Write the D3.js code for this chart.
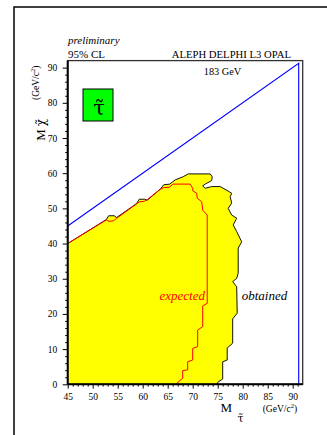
<!DOCTYPE html>
<html><head><meta charset="utf-8">
<script src="https://cdn.jsdelivr.net/npm/d3@7"></script>
<style>body{margin:0;background:#fff}svg{display:block}svg text{font-family:"Liberation Serif","DejaVu Serif",serif}svg text.dj{font-family:"DejaVu Serif",serif}</style>
</head><body>
<svg id="c" width="327" height="435"></svg>
<script>
// Data (GeV/c^2): M_stau on x, M_chi on y
const xTicks = [45,50,55,60,65,70,75,80,85,90];
const yTicks = [0,10,20,30,40,50,60,70,80,90];
const kinematicLimit = [[45,45],[91.2,91.2],[91.2,0]];
const obtained = [[45,0],[45,40],[52.7,46.8],[53.2,47.9],[54.3,47.9],[54.8,47.4],[58.8,51.4],[59.3,52.6],[60.4,52.6],[60.9,52.3],[63.6,55.6],[64.2,56.7],[65.4,56.9],[66.5,58.1],[68.1,59.0],[69.1,59.8],[73.5,59.8],[73.9,59.0],[73.8,57.9],[72.5,56.9],[72.0,56.4],[72.5,55.7],[73.8,56.2],[75.5,56.2],[77.1,54.9],[77.8,54.3],[77.5,53.3],[77.8,51.5],[77.1,50.0],[77.8,48.1],[78.8,47.2],[78.1,45.3],[78.8,43.4],[79.8,40.5],[79.1,38.7],[79.1,31.6],[78.8,30.1],[78.0,29.2],[78.8,27.7],[78.9,20.2],[78.0,18.6],[78.0,11.7],[76.9,10.3],[76.9,6.9],[76.0,6.4],[76.0,1.5],[75.1,0.7],[74.8,0]];
const expected = [[45,40],[52.7,46.7],[53.3,46.3],[54.2,46.5],[54.8,47.2],[58.8,51.3],[59.4,51.9],[60.3,52.0],[61.0,52.6],[63.5,55.4],[64.2,55.9],[65.3,56.0],[66.1,56.9],[69.5,56.9],[70,55.7],[70,55],[70.8,54.3],[70.9,52.9],[71.8,51.9],[72,49.5],[72.9,48.1],[72.9,23.0],[72,22.3],[72,16.4],[71,15.4],[71,10.7],[70,10.2],[70,6.9],[69,6.4],[69,4.1],[68,3.9],[68,1.7],[67.1,0.7],[66.8,0]];

const svg = d3.select("#c");
const x = d3.scaleLinear().domain([45,92]).range([67.7,302.7]);
const y = d3.scaleLinear().domain([0,92]).range([384.3,60.6]);
const line = d3.line().x(d=>x(d[0])).y(d=>y(d[1]));

// outer frame
svg.append("rect").attr("x",14).attr("y",7).attr("width",400).attr("height",500)
  .attr("fill","none").attr("stroke","#000").attr("stroke-width",1.5);

// regions
svg.append("path").attr("d", line(obtained)+"Z").attr("fill","#ffff00").attr("stroke","none");
svg.append("path").attr("d", line(obtained.slice(1))).attr("fill","none").attr("stroke","#111").attr("stroke-width",1);
svg.append("path").attr("d", line(expected)).attr("fill","none").attr("stroke","#ff0000").attr("stroke-width",1);
svg.append("path").attr("d", line(kinematicLimit)).attr("fill","none").attr("stroke","#0000ff").attr("stroke-width",1.1);

// plot frame
svg.append("rect").attr("x",x(45)).attr("y",y(92)).attr("width",x(92)-x(45)).attr("height",y(0)-y(92))
  .attr("fill","none").attr("stroke","#333").attr("stroke-width",1.3);

// axes
const minorX = d3.range(45,92,1).filter(v=>v%5!==0);
const minorY = d3.range(0,92,2).filter(v=>v%10!==0);
const gx = svg.append("g").attr("transform",`translate(0,${y(0)})`);
gx.call(d3.axisBottom(x).tickValues(minorX).tickSize(2.3).tickFormat(""));
gx.append("g").call(d3.axisBottom(x).tickValues(xTicks).tickSize(4.3).tickFormat(d3.format("d")));
const gy = svg.append("g").attr("transform",`translate(${x(45)},0)`);
gy.call(d3.axisLeft(y).tickValues(minorY).tickSize(2.5).tickFormat(""));
gy.append("g").call(d3.axisLeft(y).tickValues(yTicks).tickSize(5).tickFormat(d3.format("d")));
svg.selectAll(".domain").remove();
svg.selectAll("g").attr("font-family",null);
svg.selectAll(".tick line").attr("stroke","#000").attr("stroke-width",1);
svg.selectAll(".tick text").attr("font-size",9.5).attr("fill","#000");
gx.selectAll(".tick text").attr("dy",null).attr("y",15.5);
gy.selectAll(".tick text").attr("x",-10.5);
// axis lines
svg.append("line").attr("x1",x(45)).attr("x2",x(92)).attr("y1",y(0)).attr("y2",y(0)).attr("stroke","#000").attr("stroke-width",2);
svg.append("line").attr("x1",x(45)).attr("x2",x(45)).attr("y1",y(0)).attr("y2",y(92)).attr("stroke","#000").attr("stroke-width",2);

// texts
svg.append("text").attr("x",68).attr("y",44).attr("font-size",11).attr("font-style","italic").text("preliminary");
svg.append("text").attr("x",68).attr("y",58).attr("font-size",11).text("95% CL");
svg.append("text").attr("x",291).attr("y",58).attr("font-size",10.7).attr("text-anchor","end").text("ALEPH DELPHI L3 OPAL");
svg.append("text").attr("x",222.5).attr("y",75).attr("font-size",10.3).attr("text-anchor","middle").text("183 GeV");
svg.append("text").attr("x",205).attr("y",300).attr("font-size",13).attr("font-style","italic").attr("fill","#ff0000").attr("text-anchor","end").text("expected");
svg.append("text").attr("x",241.7).attr("y",300).attr("font-size",13).attr("font-style","italic").attr("fill","#000").text("obtained");

// green box
svg.append("rect").attr("x",83).attr("y",89).attr("width",30).attr("height",32).attr("fill","#00ff00").attr("stroke","#000").attr("stroke-width",1);
svg.append("text").attr("class","dj").attr("x",99).attr("y",115).attr("font-size",21).attr("text-anchor","middle").text("τ\u0303");

// x label
svg.append("text").attr("x",220.5).attr("y",412.3).attr("font-size",13).text("M");
svg.append("text").attr("class","dj").attr("x",240.5).attr("y",421.5).attr("font-size",11).attr("text-anchor","middle").text("τ\u0303");
svg.append("text").attr("x",262.7).attr("y",412).attr("font-size",9.5).html("(GeV/c<tspan dy='-4' font-size='6.5'>2</tspan><tspan dy='4'>)</tspan>");

// y label
svg.append("text").attr("transform","translate(44.5,135) rotate(-90)").attr("font-size",13).attr("text-anchor","middle").text("M");
svg.append("text").attr("class","dj").attr("transform","translate(45,122.5) rotate(-90)").attr("font-size",12).attr("text-anchor","middle").text("χ\u0303");
svg.append("text").attr("transform","translate(38.5,100) rotate(-90)").attr("font-size",9.5).html("(GeV/c<tspan dy='-4' font-size='6.5'>2</tspan><tspan dy='4'>)</tspan>");
</script>
</body></html>
